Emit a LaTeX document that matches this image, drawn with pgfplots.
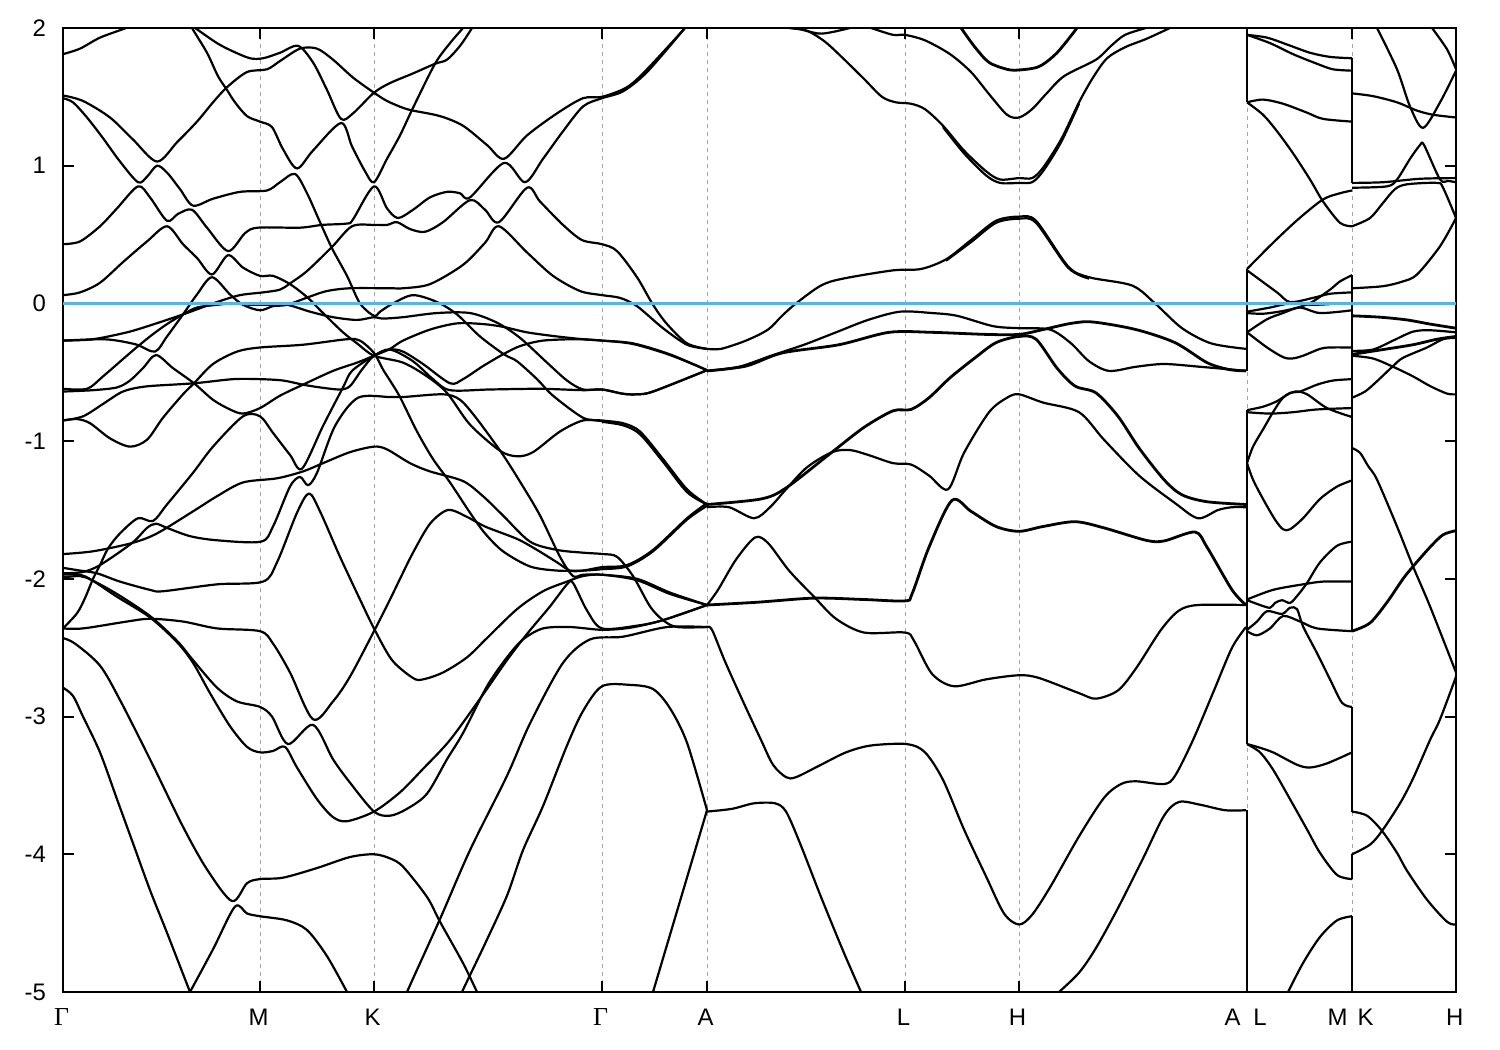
\documentclass[border=0pt]{standalone}
\usepackage{fontspec}
\setmainfont{Liberation Sans}
\newfontfamily\gmfont{Liberation Serif}
\usepackage{pgfplots}
\pgfplotsset{compat=1.18}
\definecolor{fermi}{HTML}{56B4E9}
\pgfplotsset{
  band/.style={black, line width=1.1bp, smooth, tension=0.5, no markers, line join=round},
  bandd/.style={band, line width=1.4bp},
  jump/.style={black, line width=1bp, no markers, forget plot},
}
\newcommand{\gm}{{\gmfont\fontsize{13}{13}\selectfont Γ}}
\begin{document}
\begin{tikzpicture}[x=1bp,y=1bp]
\useasboundingbox (0,0) rectangle (750,525);
\begin{axis}[
  at={(31.5bp,29bp)}, anchor=south west,
  scale only axis, width=696.5bp, height=482bp,
  xmin=63, xmax=1456, ymin=-5, ymax=2,
  xtick={63,260,374,602,707,905,1019,1247,1352,1456},
  xticklabels={\gm,M,K,\gm,A,L,H,A\hspace{6.5bp}L,M\hspace{5bp}K,H},
  ytick={-5,-4,-3,-2,-1,0,1,2},
  yticklabels={-5,-4,-3,-2,-1,0,1,2},
  tick align=inside, major tick length=5.5bp,
  tick style={black, line width=1bp},
  axis line style={line width=1bp},
  xmajorgrids=true,
  grid style={gray!70, line width=0.5bp, dash pattern=on 2bp off 2bp},
  tick label style={font=\fontsize{12}{14}\selectfont},
  yticklabel style={xshift=-5bp},
  xticklabel style={yshift=-5bp, xshift=-0.7bp},
]
% Gamma-M-K-Gamma-A
\addplot[band] coordinates {(63,1.81)(80,1.85)(100,1.93)(126,2.0)(132,2.03)};
\addplot[band] coordinates {(190,2.02)(195,2.0)(217,1.89)(233,1.83)(250,1.78)(263,1.78)(280,1.82)(298,1.87)(313,1.75)(327,1.55)(341,1.34)(353,1.38)(374,1.53)(390,1.60)(413,1.67)(435,1.74)(447,1.77)(460,1.87)(472,2.0)(475,2.05)};
\addplot[band] coordinates {(63,1.51)(83,1.47)(110,1.35)(133,1.19)(157,1.03)(177,1.17)(197,1.32)(213,1.46)(227,1.57)(247,1.68)(267,1.70)(280,1.76)(300,1.85)(317,1.85)(333,1.77)(353,1.64)(374,1.53)(387,1.47)(403,1.42)(413,1.40)(440,1.36)(463,1.29)(487,1.15)(504,1.05)(527,1.22)(557,1.38)(583,1.49)(602,1.50)(627,1.57)(647,1.70)(685,2.0)(690,2.05)};
\addplot[band] coordinates {(190,2.04)(192,2.0)(207,1.82)(218,1.65)(227,1.55)(235,1.46)(247,1.36)(260,1.32)(272,1.28)(283,1.12)(297,0.98)(313,1.11)(341,1.31)(352,1.14)(365,0.96)(374,0.88)(387,1.05)(400,1.22)(413,1.42)(435,1.74)(450,1.89)(463,2.0)(468,2.05)};
\addplot[band] coordinates {(63,1.49)(73,1.46)(87,1.35)(103,1.20)(120,1.03)(138,0.88)(147,0.92)(157,1.00)(167,0.95)(180,0.83)(193,0.71)(213,0.76)(240,0.81)(267,0.82)(280,0.88)(295,0.94)(307,0.80)(320,0.59)(332,0.40)(347,0.20)(360,0.0)(374,-0.09)(380,-0.06)(393,0.0)(413,0.06)(437,0.01)(457,-0.08)(480,-0.24)(504,-0.37)(517,-0.42)(537,-0.55)(553,-0.67)(583,-0.83)(602,-0.85)(623,-0.87)(640,-0.93)(663,-1.13)(687,-1.35)(707,-1.46)};
\addplot[band] coordinates {(602,-0.86)(623,-0.885)(640,-0.95)(663,-1.15)(687,-1.37)(707,-1.46)};
\addplot[band] coordinates {(63,0.43)(80,0.45)(100,0.56)(117,0.69)(138,0.85)(150,0.77)(167,0.60)(178,0.65)(192,0.68)(207,0.55)(228,0.38)(245,0.51)(258,0.55)(300,0.55)(322,0.57)(347,0.58)(353,0.61)(374,0.85)(387,0.69)(398,0.62)(413,0.68)(430,0.77)(447,0.81)(460,0.80)(470,0.77)(504,1.02)(525,0.88)(543,1.05)(562,1.24)(583,1.43)(602,1.49)(623,1.54)(647,1.68)(685,2.0)(690,2.05)};
\addplot[band] coordinates {(63,0.06)(80,0.08)(100,0.15)(123,0.30)(147,0.45)(167,0.56)(183,0.43)(197,0.33)(212,0.21)(228,0.35)(243,0.26)(260,0.20)(273,0.20)(290,0.14)(308,0.04)(323,-0.07)(343,-0.21)(357,-0.29)(374,-0.38)(403,-0.43)(427,-0.53)(447,-0.65)(470,-0.88)(500,-1.07)(517,-1.11)(533,-1.08)(560,-0.93)(583,-0.85)(602,-0.855)};
\addplot[band] coordinates {(63,-0.27)(93,-0.26)(127,-0.21)(150,-0.16)(183,-0.08)(217,0.01)(240,0.06)(263,0.08)(280,0.10)(290,0.145)(307,0.235)(332,0.41)(352,0.56)(374,0.57)(387,0.57)(397,0.59)(410,0.54)(425,0.52)(443,0.59)(470,0.75)(485,0.68)(499,0.59)(527,0.84)(540,0.74)(563,0.57)(582,0.46)(602,0.43)(617,0.38)(637,0.19)(653,-0.01)(667,-0.15)(687,-0.29)(707,-0.33)};
\addplot[band] coordinates {(63,-0.27)(100,-0.26)(117,-0.27)(137,-0.30)(155,-0.35)(167,-0.24)(183,-0.08)(197,0.065)(212,0.19)(230,0.065)(243,-0.01)(260,-0.05)(273,-0.02)(287,-0.01)(310,0.05)(327,0.09)(350,0.11)(390,0.11)(403,0.11)(430,0.14)(463,0.28)(485,0.44)(499,0.56)(527,0.37)(553,0.20)(580,0.09)(602,0.06)(620,0.04)(637,-0.02)(663,-0.18)(687,-0.30)(707,-0.33)};
\addplot[band] coordinates {(63,-0.62)(87,-0.62)(103,-0.53)(130,-0.36)(150,-0.24)(167,-0.15)(183,-0.08)(197,-0.03)(217,-0.01)(233,0.0)(250,-0.01)(267,-0.01)(287,-0.01)(310,-0.06)(333,-0.10)(357,-0.12)(374,-0.10)(383,-0.11)(403,-0.10)(437,-0.07)(470,-0.07)(497,-0.14)(520,-0.25)(547,-0.43)(567,-0.56)(583,-0.625)(602,-0.625)(623,-0.656)(637,-0.66)(653,-0.64)(707,-0.485)};
\addplot[band] coordinates {(63,-0.64)(93,-0.63)(117,-0.61)(130,-0.56)(143,-0.47)(156,-0.375)(173,-0.47)(194,-0.58)(213,-0.70)(230,-0.77)(243,-0.80)(260,-0.76)(280,-0.67)(303,-0.59)(333,-0.49)(357,-0.43)(374,-0.38)(390,-0.33)(403,-0.27)(430,-0.19)(457,-0.145)(483,-0.15)(503,-0.17)(527,-0.21)(557,-0.24)(583,-0.26)(602,-0.27)(633,-0.29)(670,-0.37)(707,-0.485)};
\addplot[band] coordinates {(63,-0.85)(83,-0.82)(103,-0.73)(120,-0.65)(132,-0.62)(150,-0.60)(194,-0.58)(233,-0.55)(260,-0.55)(283,-0.56)(303,-0.59)(320,-0.61)(340,-0.625)(350,-0.60)(362,-0.48)(374,-0.38)(390,-0.335)(403,-0.35)(423,-0.44)(450,-0.58)(463,-0.55)(483,-0.455)(503,-0.37)(520,-0.31)(543,-0.27)(577,-0.26)(602,-0.27)(633,-0.295)(670,-0.375)(707,-0.485)};
\addplot[band] coordinates {(63,-0.85)(77,-0.84)(90,-0.87)(110,-0.98)(130,-1.04)(147,-0.99)(163,-0.83)(183,-0.66)(194,-0.58)(213,-0.44)(237,-0.35)(260,-0.32)(303,-0.30)(347,-0.26)(360,-0.27)(374,-0.36)(383,-0.48)(390,-0.56)(400,-0.68)(417,-0.93)(433,-1.13)(450,-1.30)(470,-1.52)(485,-1.67)(503,-1.80)(530,-1.91)(557,-1.94)(583,-1.94)(602,-1.93)(627,-1.91)(653,-1.80)(687,-1.57)(707,-1.47)};
\addplot[band] coordinates {(63,-2.36)(77,-2.25)(85,-2.14)(93,-2.0)(100,-1.90)(108,-1.78)(120,-1.67)(138,-1.56)(153,-1.58)(167,-1.46)(193,-1.23)(213,-1.04)(243,-0.82)(260,-0.82)(273,-0.94)(290,-1.10)(302,-1.20)(323,-0.89)(343,-0.61)(352,-0.49)(374,-0.38)(390,-0.335)(413,-0.42)(433,-0.55)(450,-0.63)(490,-0.625)(540,-0.62)(583,-0.63)(602,-0.625)(623,-0.656)(637,-0.66)(653,-0.64)(707,-0.485)};
\addplot[band] coordinates {(63,-1.96)(83,-1.95)(100,-1.90)(132,-1.74)(147,-1.63)(156,-1.60)(167,-1.63)(190,-1.69)(217,-1.72)(261,-1.73)(273,-1.62)(290,-1.33)(300,-1.26)(308,-1.32)(317,-1.23)(335,-0.89)(358,-0.685)(390,-0.68)(403,-0.68)(443,-0.66)(460,-0.70)(477,-0.84)(503,-1.10)(523,-1.33)(540,-1.54)(560,-1.84)(573,-1.98)(583,-1.97)(602,-1.97)(637,-2.0)(670,-2.10)(707,-2.19)};
\addplot[band] coordinates {(63,-1.82)(93,-1.80)(132,-1.74)(157,-1.67)(193,-1.51)(217,-1.40)(243,-1.30)(277,-1.27)(303,-1.22)(323,-1.16)(350,-1.08)(374,-1.04)(387,-1.06)(410,-1.16)(430,-1.22)(463,-1.29)(483,-1.40)(503,-1.54)(530,-1.73)(557,-1.79)(583,-1.81)(603,-1.82)(617,-1.84)(633,-1.98)(650,-2.2)(663,-2.30)(677,-2.35)(707,-2.35)};
\addplot[band] coordinates {(63,-1.92)(80,-1.94)(97,-1.96)(120,-2.02)(150,-2.08)(163,-2.09)(217,-2.04)(263,-2.02)(277,-1.88)(297,-1.52)(309,-1.38)(320,-1.51)(340,-1.84)(360,-2.15)(374,-2.36)(392,-2.59)(413,-2.72)(423,-2.73)(443,-2.68)(467,-2.57)(487,-2.43)(517,-2.22)(543,-2.09)(567,-2.02)(583,-1.98)(602,-1.97)(637,-2.01)(670,-2.11)(707,-2.19)};
\addplot[band] coordinates {(63,-2.36)(83,-2.36)(127,-2.31)(150,-2.29)(183,-2.31)(217,-2.36)(260,-2.38)(273,-2.47)(290,-2.68)(313,-3.02)(333,-2.89)(350,-2.71)(374,-2.38)(390,-2.15)(400,-2.0)(413,-1.81)(430,-1.60)(448,-1.50)(467,-1.55)(485,-1.62)(517,-1.71)(537,-1.79)(557,-1.88)(570,-1.94)(583,-1.94)(602,-1.915)(627,-1.90)(653,-1.79)(687,-1.56)(707,-1.45)};
\addplot[band] coordinates {(63,-1.97)(80,-1.97)(92,-2.01)(117,-2.13)(150,-2.28)(177,-2.46)(193,-2.61)(210,-2.83)(230,-3.07)(247,-3.22)(260,-3.26)(273,-3.25)(285,-3.22)(297,-3.37)(317,-3.60)(333,-3.73)(347,-3.76)(374,-3.69)(400,-3.55)(423,-3.38)(450,-3.17)(483,-2.84)(507,-2.59)(527,-2.40)(550,-2.20)(567,-2.04)(573,-2.03)(587,-2.23)(602,-2.36)(637,-2.34)(663,-2.30)(707,-2.19)};
\addplot[band] coordinates {(63,-1.99)(80,-1.98)(92,-2.01)(117,-2.11)(150,-2.27)(177,-2.45)(193,-2.59)(217,-2.79)(237,-2.89)(260,-2.93)(272,-3.0)(288,-3.20)(313,-3.06)(333,-3.31)(350,-3.48)(374,-3.69)(390,-3.72)(407,-3.67)(427,-3.56)(447,-3.31)(463,-3.12)(487,-2.78)(507,-2.57)(523,-2.44)(543,-2.36)(570,-2.35)(602,-2.37)(630,-2.355)(663,-2.30)(707,-2.19)};
\addplot[band] coordinates {(405,-5.05)(407,-5.0)(440,-4.47)(470,-3.97)(507,-3.43)(530,-3.05)(563,-2.61)(590,-2.44)(623,-2.42)(667,-2.35)(707,-2.35)};
\addplot[band] coordinates {(460,-5.05)(462,-5.0)(485,-4.65)(507,-4.30)(523,-3.97)(543,-3.65)(567,-3.21)(583,-2.96)(602,-2.78)(630,-2.77)(653,-2.80)(670,-2.94)(687,-3.19)(707,-3.68)};
\addplot[band] coordinates {(63,-2.43)(75,-2.47)(100,-2.63)(120,-2.88)(150,-3.31)(183,-3.80)(207,-4.11)(232,-4.34)(247,-4.21)(260,-4.18)(283,-4.17)(317,-4.10)(350,-4.02)(374,-4.0)(390,-4.03)(403,-4.09)(427,-4.31)(440,-4.49)(463,-4.79)(477,-5.0)};
\addplot[band] coordinates {(63,-2.79)(73,-2.85)(83,-3.0)(100,-3.26)(117,-3.60)(133,-3.92)(150,-4.26)(167,-4.57)(190,-5.0)};
\addplot[band] coordinates {(190,-5.0)(213,-4.69)(235,-4.38)(247,-4.43)(260,-4.45)(287,-4.48)(307,-4.55)(327,-4.74)(347,-5.0)};
\addplot[band] coordinates {(653,-5.0)(707,-3.68)};
% A-L-H-A
\addplot[band] coordinates {(785,2.02)(789,2.0)(807,1.98)(825,1.90)(843,1.78)(864,1.63)(882,1.50)(896,1.46)(911,1.45)(925,1.41)(943,1.29)(964,1.11)(986,0.96)(1000,0.90)(1019,0.91)(1032,0.91)(1043,0.985)(1061,1.19)(1079,1.46)(1093,1.64)(1107,1.78)(1125,1.86)(1146,1.92)(1170,2.0)};
\addplot[band] coordinates {(943,1.28)(964,1.09)(986,0.93)(1000,0.875)(1019,0.875)(1032,0.88)(1043,0.96)(1061,1.17)(1079,1.45)};
\addplot[band] coordinates {(796,2.0)(818,1.96)(832,1.97)(850,2.0)};
\addplot[band] coordinates {(871,2.0)(893,1.95)(905,1.95)(925,1.91)(950,1.81)(971,1.68)(989,1.52)(1007,1.37)(1019,1.35)(1032,1.41)(1046,1.52)(1064,1.65)(1096,1.77)(1111,1.87)(1125,1.95)(1146,2.0)};
\addplot[bandd] coordinates {(961,2.0)(975,1.86)(989,1.75)(1007,1.70)(1019,1.695)(1039,1.72)(1057,1.82)(1077,2.0)};
\addplot[band] coordinates {(707,-0.33)(721,-0.33)(746,-0.27)(768,-0.19)(782,-0.09)(796,0.0)(821,0.13)(843,0.18)(893,0.24)(921,0.25)(946,0.32)(971,0.46)(996,0.60)(1019,0.63)(1036,0.60)(1068,0.27)(1089,0.19)(1132,0.13)(1155,0.0)(1182,-0.18)(1211,-0.29)(1246,-0.33)};
\addplot[band] coordinates {(946,0.31)(971,0.445)(996,0.585)(1019,0.615)(1036,0.585)(1068,0.26)(1089,0.18)};
\addplot[band] coordinates {(707,-0.49)(739,-0.46)(771,-0.38)(804,-0.30)(836,-0.21)(868,-0.12)(900,-0.06)(932,-0.07)(957,-0.09)(993,-0.165)(1019,-0.18)(1050,-0.19)(1071,-0.29)(1089,-0.42)(1109,-0.49)(1136,-0.46)(1164,-0.44)(1200,-0.46)(1246,-0.49)};
\addplot[bandd] coordinates {(707,-0.49)(746,-0.455)(782,-0.36)(839,-0.30)(889,-0.21)(932,-0.21)(986,-0.225)(1019,-0.225)(1043,-0.19)(1071,-0.145)(1093,-0.135)(1136,-0.19)(1175,-0.285)(1207,-0.43)(1229,-0.48)(1246,-0.49)};
\addplot[bandd] coordinates {(707,-1.46)(761,-1.42)(786,-1.34)(832,-1.08)(864,-0.90)(893,-0.78)(911,-0.77)(929,-0.685)(950,-0.54)(975,-0.395)(996,-0.285)(1019,-0.24)(1036,-0.26)(1057,-0.47)(1075,-0.60)(1096,-0.65)(1118,-0.82)(1139,-1.05)(1164,-1.28)(1182,-1.39)(1207,-1.44)(1246,-1.46)};
\addplot[band] coordinates {(707,-1.48)(729,-1.48)(754,-1.56)(770,-1.48)(786,-1.35)(807,-1.19)(832,-1.08)(850,-1.065)(868,-1.10)(893,-1.16)(911,-1.17)(929,-1.25)(948,-1.35)(964,-1.085)(989,-0.79)(1007,-0.685)(1019,-0.66)(1043,-0.72)(1079,-0.79)(1104,-0.99)(1139,-1.25)(1175,-1.45)(1198,-1.56)(1218,-1.50)(1232,-1.48)(1246,-1.48)};
\addplot[band] coordinates {(707,-2.19)(718,-2.08)(736,-1.86)(755,-1.70)(768,-1.74)(789,-1.94)(814,-2.13)(836,-2.29)(864,-2.39)(905,-2.39)(914,-2.45)(932,-2.69)(954,-2.78)(986,-2.73)(1019,-2.70)(1039,-2.72)(1079,-2.83)(1096,-2.87)(1118,-2.81)(1136,-2.65)(1161,-2.37)(1179,-2.23)(1198,-2.19)(1246,-2.19)};
\addplot[bandd] coordinates {(707,-2.19)(757,-2.17)(814,-2.14)(864,-2.15)(905,-2.16)(912,-2.11)(929,-1.77)(952,-1.43)(971,-1.51)(996,-1.62)(1019,-1.655)(1043,-1.62)(1075,-1.585)(1104,-1.63)(1146,-1.72)(1164,-1.725)(1195,-1.66)(1207,-1.77)(1232,-2.08)(1246,-2.19)};
\addplot[band] coordinates {(707,-2.35)(712,-2.37)(725,-2.60)(743,-2.89)(761,-3.17)(773,-3.35)(786,-3.44)(796,-3.44)(821,-3.35)(846,-3.26)(871,-3.21)(907,-3.20)(925,-3.26)(943,-3.46)(964,-3.82)(986,-4.16)(1004,-4.43)(1019,-4.51)(1032,-4.44)(1050,-4.24)(1079,-3.87)(1104,-3.59)(1121,-3.49)(1136,-3.47)(1164,-3.49)(1175,-3.43)(1193,-3.17)(1214,-2.81)(1232,-2.50)(1246,-2.35)};
\addplot[band] coordinates {(707,-3.69)(732,-3.67)(754,-3.63)(775,-3.63)(786,-3.69)(800,-3.92)(821,-4.31)(843,-4.70)(861,-5.0)};
\addplot[band] coordinates {(1059,-5.0)(1079,-4.86)(1096,-4.68)(1118,-4.39)(1143,-4.03)(1164,-3.72)(1179,-3.62)(1200,-3.64)(1225,-3.68)(1246,-3.68)};
% L-M
\addplot[band] coordinates {(1247,1.95)(1267,1.93)(1287,1.88)(1310,1.82)(1330,1.79)(1352,1.78)};
\addplot[band] coordinates {(1247,1.95)(1270,1.89)(1293,1.81)(1317,1.74)(1333,1.70)(1352,1.69)};
\addplot[band] coordinates {(1247,1.46)(1263,1.48)(1283,1.45)(1307,1.385)(1323,1.34)(1352,1.32)};
\addplot[band] coordinates {(1247,1.46)(1263,1.37)(1277,1.25)(1293,1.09)(1310,0.90)(1323,0.74)(1340,0.585)(1352,0.56)};
\addplot[band] coordinates {(1247,0.25)(1273,0.44)(1298,0.61)(1323,0.755)(1340,0.80)(1352,0.82)};
\addplot[band] coordinates {(1247,0.24)(1277,0.08)(1290,0.01)(1313,0.04)(1330,0.07)(1352,0.08)};
\addplot[band] coordinates {(1247,-0.06)(1270,-0.03)(1290,0.0)(1312,-0.01)(1330,-0.005)};
\addplot[band] coordinates {(1247,-0.07)(1263,-0.075)(1283,-0.055)(1300,-0.025)(1312,0.01)(1330,0.10)(1340,0.16)(1352,0.205)};
\addplot[band] coordinates {(1247,-0.21)(1267,-0.115)(1283,-0.07)(1300,-0.03)(1320,-0.07)(1352,-0.05)};
\addplot[band] coordinates {(1247,-0.21)(1267,-0.32)(1283,-0.39)(1292,-0.40)(1303,-0.38)(1320,-0.33)(1330,-0.32)(1352,-0.32)};
\addplot[band] coordinates {(1247,-0.775)(1263,-0.75)(1277,-0.71)(1290,-0.65)(1300,-0.64)(1317,-0.59)(1333,-0.56)(1352,-0.55)};
\addplot[band] coordinates {(1247,-0.79)(1270,-0.80)(1293,-0.79)(1317,-0.77)(1352,-0.76)};
\addplot[band] coordinates {(1247,-1.16)(1253,-1.04)(1263,-0.915)(1273,-0.79)(1283,-0.685)(1295,-0.64)(1307,-0.66)(1327,-0.76)(1352,-0.825)};
\addplot[band] coordinates {(1247,-1.16)(1253,-1.28)(1263,-1.42)(1275,-1.57)(1283,-1.64)(1290,-1.64)(1303,-1.56)(1320,-1.42)(1337,-1.33)(1352,-1.285)};
\addplot[band] coordinates {(1247,-2.15)(1273,-2.08)(1303,-2.04)(1323,-2.02)(1352,-2.02)};
\addplot[band] coordinates {(1247,-2.155)(1260,-2.19)(1270,-2.21)(1275,-2.175)(1282,-2.155)(1290,-2.175)(1297,-2.125)(1307,-2.03)(1320,-1.88)(1337,-1.76)(1352,-1.73)};
\addplot[band] coordinates {(1247,-2.37)(1257,-2.31)(1267,-2.235)(1282,-2.255)(1290,-2.21)(1297,-2.22)(1303,-2.345)(1317,-2.54)(1330,-2.73)(1342,-2.90)(1352,-2.93)};
\addplot[band] coordinates {(1247,-2.38)(1257,-2.41)(1270,-2.36)(1283,-2.27)(1300,-2.31)(1317,-2.36)(1352,-2.38)};
\addplot[band] coordinates {(1247,-3.20)(1257,-3.22)(1273,-3.26)(1297,-3.35)(1310,-3.37)(1327,-3.34)(1352,-3.26)};
\addplot[band] coordinates {(1247,-3.20)(1260,-3.26)(1273,-3.385)(1290,-3.60)(1307,-3.82)(1320,-3.99)(1337,-4.15)(1352,-4.18)};
\addplot[band] coordinates {(1288,-5.0)(1303,-4.79)(1320,-4.60)(1337,-4.48)(1352,-4.45)};
% K-H
\addplot[band] coordinates {(1377,2.0)(1397,1.70)(1410,1.43)(1423,1.275)(1440,1.46)(1456,1.69)};
\addplot[band] coordinates {(1432,2.0)(1447,1.845)(1456,1.70)};
\addplot[band] coordinates {(1352,1.525)(1373,1.505)(1397,1.46)(1417,1.40)(1433,1.37)(1456,1.35)};
\addplot[band] coordinates {(1352,0.875)(1383,0.88)(1420,0.905)(1456,0.91)};
\addplot[band] coordinates {(1352,0.84)(1387,0.85)(1397,0.90)(1410,1.05)(1420,1.15)(1424,1.15)(1440,0.90)(1448,0.89)(1456,0.88)};
\addplot[band] coordinates {(1352,0.56)(1370,0.62)(1383,0.73)(1395,0.83)(1407,0.865)(1437,0.875)(1443,0.84)(1456,0.62)};
\addplot[band] coordinates {(1352,0.11)(1383,0.125)(1403,0.16)(1417,0.21)(1440,0.415)(1456,0.62)};
\addplot[bandd] coordinates {(1352,-0.09)(1380,-0.10)(1407,-0.12)(1430,-0.15)(1456,-0.18)};
\addplot[band] coordinates {(1352,-0.345)(1373,-0.335)(1393,-0.27)(1413,-0.205)(1430,-0.195)(1456,-0.21)};
\addplot[bandd] coordinates {(1352,-0.37)(1383,-0.335)(1413,-0.30)(1437,-0.26)(1456,-0.24)};
\addplot[band] coordinates {(1352,-0.38)(1373,-0.40)(1393,-0.46)(1413,-0.53)(1430,-0.60)(1447,-0.655)(1456,-0.66)};
\addplot[band] coordinates {(1352,-0.685)(1365,-0.64)(1377,-0.565)(1393,-0.455)(1403,-0.395)(1427,-0.32)(1443,-0.26)(1456,-0.25)};
\addplot[band] coordinates {(1352,-1.05)(1360,-1.085)(1368,-1.18)(1377,-1.28)(1397,-1.62)(1413,-1.91)(1430,-2.20)(1456,-2.68)};
\addplot[bandd] coordinates {(1352,-2.38)(1370,-2.32)(1387,-2.17)(1403,-2.0)(1413,-1.91)(1430,-1.77)(1443,-1.68)(1456,-1.65)};
\addplot[band] coordinates {(1456,-2.71)(1440,-3.02)(1430,-3.17)(1413,-3.45)(1400,-3.63)(1382,-3.83)(1370,-3.93)(1352,-4.0)};
\addplot[band] coordinates {(1352,-3.69)(1367,-3.72)(1382,-3.83)(1397,-3.99)(1407,-4.12)(1427,-4.33)(1447,-4.49)(1456,-4.51)};
% vertical jumps where the k-path is broken
\addplot[jump] coordinates {(1247,1.46)(1247,2)};
\addplot[jump] coordinates {(1247,-0.49)(1247,0.25)};
\addplot[jump] coordinates {(1247,-3.20)(1247,-0.775)};
\addplot[jump] coordinates {(1247,-5)(1247,-3.68)};
\addplot[jump] coordinates {(1352,1.93)(1352,2)};
\addplot[jump] coordinates {(1352,0.875)(1352,1.78)};
\addplot[jump] coordinates {(1352,-2.38)(1352,0.205)};
\addplot[jump] coordinates {(1352,-3.69)(1352,-2.93)};
\addplot[jump] coordinates {(1352,-4.18)(1352,-4.0)};
\addplot[jump] coordinates {(1352,-5)(1352,-4.45)};
% Fermi level
\addplot[fermi, line width=1.1bp, no markers] coordinates {(63,0)(1456,0)};
\end{axis}
\end{tikzpicture}
\end{document}
